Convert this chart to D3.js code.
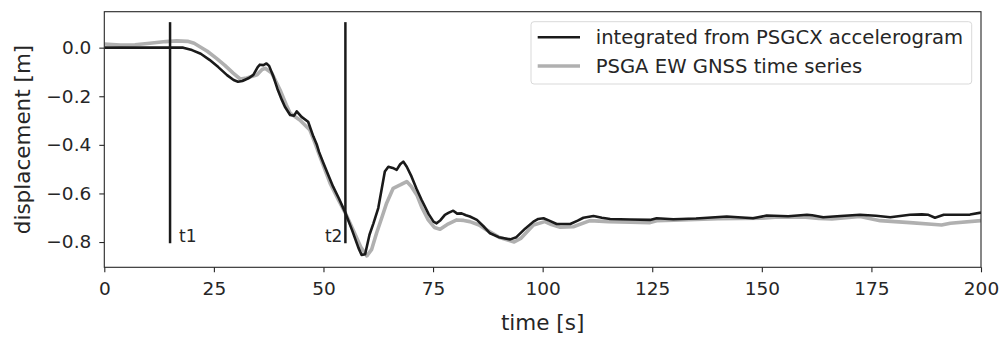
<!DOCTYPE html>
<html>
<head>
<meta charset="utf-8">
<script src="https://cdn.jsdelivr.net/npm/d3@7"></script>
<style>
  body { margin: 0; background: #fff; }
  svg { font-family: "DejaVu Sans", sans-serif; }
</style>
</head>
<body>
<div id="chart"></div>
<script>
// accelerogram-integrated displacement (black)
var accTime = [0, 10, 18, 20, 22, 24, 26, 28, 29.5, 30.5, 31.5, 33, 34, 35, 35.5, 36.3, 37, 37.6, 38.6, 39.5,
  40.5, 41.2, 42.4, 43.3, 43.9, 45, 46.5, 47.7, 48.5, 49, 50, 51, 52.2, 53.5, 55, 56.5, 58, 58.7, 59.5, 60.5,
  61.4, 62.5, 64, 64.8, 65.8, 66.7, 67.5, 68.2, 69, 70.1, 71.2, 72.4, 74, 75.1, 75.8, 76.7, 77.7, 78.5, 79.6, 80.5,
  81.5, 82.5, 83.4, 85, 86.5, 88, 90, 92.6, 94, 96, 97.9, 99, 100.2, 101.5, 103.2, 106.3, 108, 109.3, 111.6, 113.5,
  115.4, 120, 124.5, 126, 129.8, 135, 142, 148, 151.1, 156, 160.3, 161.5, 164, 168, 172.4, 176, 179.3, 183.8, 186.5, 188,
  189.5, 191.5, 197.5, 200];
var accDisp = [0, 0, 0, -0.01, -0.025, -0.05, -0.08, -0.113, -0.133, -0.14, -0.137, -0.125, -0.112, -0.08, -0.07, -0.072, -0.065, -0.075, -0.12, -0.17,
  -0.215, -0.243, -0.277, -0.28, -0.262, -0.285, -0.305, -0.366, -0.4, -0.43, -0.476, -0.52, -0.572, -0.62, -0.68, -0.75, -0.825, -0.853, -0.85, -0.77,
  -0.723, -0.66, -0.51, -0.49, -0.495, -0.503, -0.48, -0.469, -0.49, -0.531, -0.58, -0.627, -0.685, -0.716, -0.723, -0.71, -0.688, -0.68, -0.671, -0.683,
  -0.682, -0.69, -0.695, -0.709, -0.735, -0.764, -0.78, -0.789, -0.78, -0.745, -0.716, -0.705, -0.702, -0.712, -0.726, -0.726, -0.712, -0.7, -0.693, -0.7,
  -0.705, -0.707, -0.709, -0.702, -0.706, -0.703, -0.695, -0.702, -0.691, -0.694, -0.688, -0.69, -0.698, -0.693, -0.688, -0.692, -0.698, -0.688, -0.686, -0.688,
  -0.7, -0.688, -0.687, -0.679];

// GNSS time series (grey)
var gnssTime = [0, 3.6, 7, 10.4, 14, 16.5, 19, 20.5, 21.8, 23.5, 25.6, 27.5, 29.4, 31, 32.5, 34.8, 36, 36.7, 38.2, 40.1,
  41.5, 42.4, 44.6, 46.9, 48, 49.2, 51.5, 53.5, 55, 57, 58.5, 59.9, 61, 62.1, 63.3, 64.4, 65.9, 67.5, 69, 70,
  71.3, 72.5, 73.9, 75.3, 76.6, 78.5, 80.4, 82, 83.4, 85.5, 87.2, 90, 92.6, 93.5, 95, 97.9, 100.5, 102, 104, 107,
  110.8, 115, 120, 124.5, 126, 130, 140, 150, 153, 160, 163, 166, 172.4, 177, 183.8, 189.5, 191, 193, 200];
var gnssDisp = [0.015, 0.011, 0.012, 0.018, 0.025, 0.028, 0.026, 0.018, 0.004, -0.015, -0.044, -0.073, -0.105, -0.129, -0.125, -0.112, -0.09, -0.085, -0.105, -0.174,
  -0.235, -0.27, -0.298, -0.339, -0.39, -0.449, -0.558, -0.63, -0.681, -0.76, -0.82, -0.857, -0.83, -0.764, -0.7, -0.64, -0.579, -0.565, -0.551, -0.57,
  -0.606, -0.66, -0.709, -0.74, -0.747, -0.725, -0.709, -0.711, -0.716, -0.73, -0.75, -0.78, -0.795, -0.8, -0.785, -0.73, -0.716, -0.728, -0.739, -0.737,
  -0.712, -0.716, -0.718, -0.72, -0.712, -0.71, -0.704, -0.702, -0.698, -0.698, -0.703, -0.705, -0.695, -0.712, -0.72, -0.728, -0.73, -0.723, -0.712];

// marker lines
var markTimes = [15, 55];
var markLabels = ["t1", "t2"];

var xTicks = [0, 25, 50, 75, 100, 125, 150, 175, 200];
var yTicks = [0.0, -0.2, -0.4, -0.6, -0.8];
var seriesNames = ["integrated from PSGCX accelerogram", "PSGA EW GNSS time series"];

var margin = {top: 11.7, right: 21, bottom: 69.7, left: 104.3},
    width = 1002 - margin.left - margin.right,
    height = 337 - margin.top - margin.bottom;

var svg = d3.select("#chart")
  .append("svg")
    .attr("width", 1002)
    .attr("height", 337)
  .append("g")
    .attr("transform", "translate(" + margin.left + "," + margin.top + ")");

var x = d3.scaleLinear().domain([0, 200]).range([0, width]);
var y = d3.scaleLinear().domain([-0.904, 0.148]).range([height, 0]);

svg.append("clipPath").attr("id", "clip")
  .append("rect").attr("width", width).attr("height", height);

// axes
var fmt = function(d) { return d3.format(".1f")(d).replace("-", "\u2212"); };
var xAxis = svg.append("g")
  .attr("transform", "translate(0," + height + ")")
  .call(d3.axisBottom(x).tickValues(xTicks).tickSize(5).tickPadding(10));
var yAxis = svg.append("g")
  .call(d3.axisLeft(y).tickValues(yTicks).tickFormat(fmt).tickSize(5).tickPadding(8));
[xAxis, yAxis].forEach(function(a) {
  a.select(".domain").remove();
  a.selectAll("line").attr("stroke", "#262626").attr("stroke-width", 1.1);
  a.selectAll("text").attr("fill", "#262626").style("font-size", "18.5px").style("font-family", "DejaVu Sans");
});

// data lines
var lineAcc = d3.line()
  .x(function(d, i) { return x(accTime[i]); })
  .y(function(d) { return y(d); });
var lineGnss = d3.line()
  .x(function(d, i) { return x(gnssTime[i]); })
  .y(function(d) { return y(d); });

var plot = svg.append("g").attr("clip-path", "url(#clip)");

plot.append("path")
  .datum(gnssDisp)
  .attr("fill", "none")
  .attr("stroke", "#b0b0b0")
  .attr("stroke-width", 3.6)
  .attr("stroke-linejoin", "round")
  .attr("d", lineGnss);

plot.append("path")
  .datum(accDisp)
  .attr("fill", "none")
  .attr("stroke", "#1a1a1a")
  .attr("stroke-width", 2.6)
  .attr("stroke-linejoin", "round")
  .attr("d", lineAcc);

// t1 / t2 markers
markTimes.forEach(function(t, i) {
  svg.append("line")
    .attr("x1", x(t)).attr("x2", x(t))
    .attr("y1", y(0.105)).attr("y2", y(-0.805))
    .attr("stroke", "#1a1a1a")
    .attr("stroke-width", 2.5);
  svg.append("text")
    .attr("x", i === 0 ? x(t) + 9 : x(t) - 3)
    .attr("y", y(-0.8))
    .attr("text-anchor", i === 0 ? "start" : "end")
    .attr("fill", "#262626")
    .style("font-size", "17px")
    .text(markLabels[i]);
});

// frame
svg.append("rect")
  .attr("width", width).attr("height", height)
  .attr("fill", "none")
  .attr("stroke", "#262626")
  .attr("stroke-width", 1.1);

// legend
var lg = svg.append("g").attr("transform", "translate(" + (531 - margin.left) + "," + (21.7 - margin.top) + ")");
lg.append("rect")
  .attr("width", 440.7).attr("height", 62.3)
  .attr("rx", 3)
  .attr("fill", "#fff").attr("fill-opacity", 0.8)
  .attr("stroke", "#d9d9d9");
var legendColors = ["#1a1a1a", "#b0b0b0"];
var legendWidths = [2.6, 3.6];
seriesNames.forEach(function(n, i) {
  var yy = 15.6 + i * 28.7;
  lg.append("line")
    .attr("x1", 6.7).attr("x2", 49)
    .attr("y1", yy).attr("y2", yy)
    .attr("stroke", legendColors[i])
    .attr("stroke-width", legendWidths[i]);
  lg.append("text")
    .attr("x", 64.7).attr("y", yy)
    .attr("dy", "0.35em")
    .attr("fill", "#262626")
    .style("font-size", "19.6px")
    .text(n);
});

// axis labels
svg.append("text")
  .attr("text-anchor", "middle")
  .attr("x", width / 2)
  .attr("y", 330 - margin.top)
  .attr("fill", "#262626")
  .style("font-size", "21.5px")
  .text("time [s]");

svg.append("text")
  .attr("text-anchor", "middle")
  .attr("transform", "rotate(-90)")
  .attr("x", -height / 2)
  .attr("y", 30 - margin.left)
  .attr("fill", "#262626")
  .style("font-size", "21.5px")
  .text("displacement [m]");
</script>
</body>
</html>
